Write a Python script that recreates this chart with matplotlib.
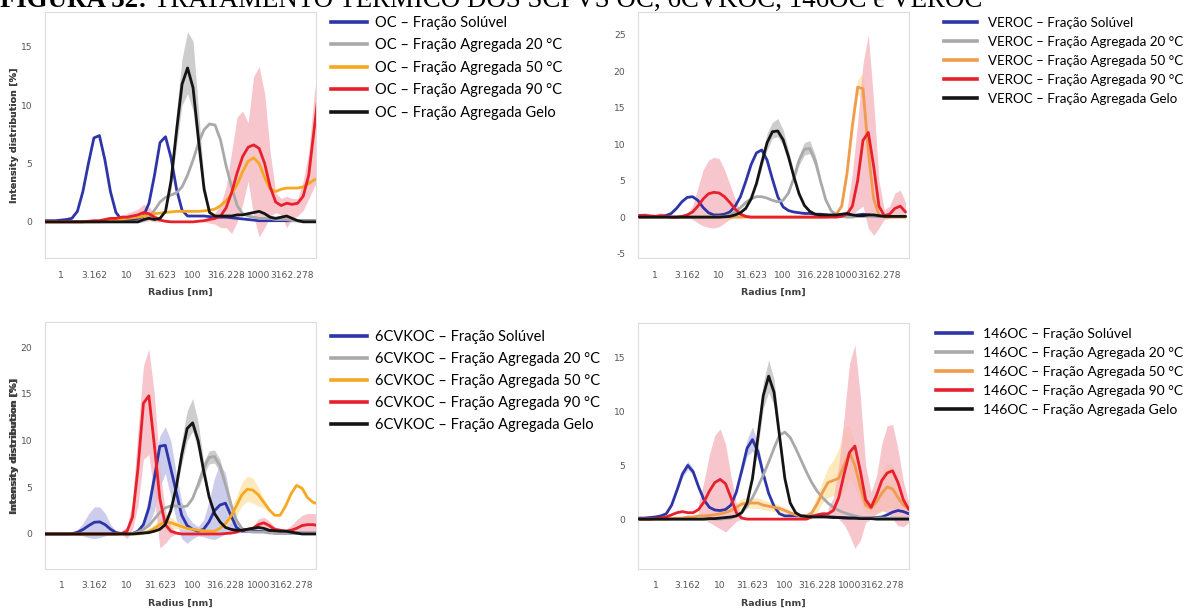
import matplotlib
matplotlib.use('Agg')
import matplotlib.pyplot as plt
from matplotlib.lines import Line2D
from matplotlib.ticker import NullLocator

# ---------------- data ----------------
radius = [0.562, 0.681, 0.825, 1.0, 1.212, 1.468, 1.778, 2.154, 2.610, 3.162,
          3.831, 4.642, 5.623, 6.813, 8.254, 10.0, 12.12, 14.68, 17.78, 21.54,
          26.10, 31.62, 38.31, 46.42, 56.23, 68.13, 82.54, 100.0, 121.2, 146.8,
          177.8, 215.4, 261.0, 316.2, 383.1, 464.2, 562.3, 681.3, 825.4, 1000.0,
          1212, 1468, 1778, 2154, 2610, 3162, 3831, 4642, 5623, 6813, 8254]

tick_values = [1, 3.162, 10, 31.623, 100, 316.228, 1000, 3162.278]
tick_labels = ['1', '3.162', '10', '31.623', '100', '316.228', '1000', '3162.278']
fractions = ['Fração Solúvel', 'Fração Agregada 20 °C', 'Fração Agregada 50 °C',
             'Fração Agregada 90 °C', 'Fração Agregada Gelo']
samples = ['OC', 'VEROC', '6CVKOC', '146OC']

# OC
oc_sol = [0.1, 0.1, 0.1, 0.15, 0.2, 0.3, 0.9, 2.6, 5.0, 7.2, 7.4, 5.3, 2.6, 0.8, 0.2, 0.15, 0.2, 0.3,
          0.5, 1.6, 4.0, 6.8, 7.3, 5.5, 2.8, 1.0, 0.5, 0.5, 0.5, 0.5, 0.45, 0.4, 0.4, 0.4, 0.35, 0.3,
          0.25, 0.2, 0.15, 0.1, 0.1, 0.1, 0.1, 0.1, 0.1, 0.1, 0.1, 0.1, 0.1, 0.1, 0.05]
oc_20 = [0, 0, 0, 0, 0, 0, 0, 0, 0, 0, 0, 0, 0, 0, 0, 0, 0, 0,
         0.1, 0.4, 1.0, 1.7, 2.1, 2.3, 2.5, 3.0, 4.0, 5.3, 6.8, 7.9, 8.4, 8.3, 7.0, 4.8, 3.0, 1.4,
         0.7, 0.5, 0.4, 0.3, 0.3, 0.3, 0.2, 0.2, 0.2, 0.1, 0.1, 0.1, 0.1, 0.1, 0.1]
oc_50 = [0, 0, 0, 0, 0, 0, 0, 0, 0, 0, 0,
         0.05, 0.1, 0.15, 0.2, 0.3, 0.35, 0.4, 0.5, 0.6, 0.7, 0.75, 0.8, 0.85, 0.9, 0.9, 0.9, 0.9,
         0.9, 0.95, 1.0, 1.1, 1.4, 1.8, 2.4, 3.2, 4.3, 5.2, 5.5, 5.0, 3.8, 2.8, 2.6, 2.8, 2.9, 2.9,
         2.9, 3.0, 3.3, 3.6, 3.8]
oc_90 = [0, 0, 0, 0, 0, 0, 0, 0, 0.05, 0.1, 0.1, 0.2, 0.3, 0.3, 0.4, 0.4, 0.5, 0.6, 0.8, 0.7,
         0.4, 0.15, 0.05, 0, 0, 0, 0, 0, 0.05, 0.1, 0.2, 0.3, 0.5, 1.2, 2.5, 4.2, 5.6, 6.4, 6.6,
         6.3, 5.0, 3.0, 1.7, 1.4, 1.6, 1.5, 1.6, 2.2, 4.0, 8.0, 12.0]
oc_gelo = [0, 0, 0, 0, 0, 0, 0, 0, 0, 0, 0, 0, 0, 0, 0, 0, 0, 0,
           0.2, 0.3, 0.2, 0.3, 0.9, 3.5, 7.8, 11.8, 13.2, 11.5, 7.0, 2.8, 0.8, 0.5, 0.5, 0.5, 0.5,
           0.6, 0.6, 0.7, 0.8, 0.9, 0.7, 0.4, 0.3, 0.4, 0.5, 0.3, 0.1, 0, 0, 0, 0]
oc_gelo_band = (22, [1.2, 4.5, 9.5, 14.0, 16.3, 15.5, 9.5, 3.5, 1.0],
                [0.7, 2.8, 6.5, 10.0, 11.0, 9.5, 5.5, 2.2, 0.6])
oc_90_band_a = (14, [0.6, 0.7, 0.9, 1.1, 1.5, 1.3, 0.7, 0.3],
                [0.2, 0.1, 0.1, 0.1, 0.0, 0.1, 0.0, 0.0])
oc_90_band_b = (29, [0.2, 0.5, 0.8, 1.5, 3.0, 6.0, 9.0, 9.5, 8.5, 12.5, 13.3, 11.0, 6.0, 2.5, 2.0,
                     2.2, 2.0, 2.0, 3.5, 6.0, 11.0, 14.0],
                [0.0, -0.1, -0.2, -0.5, -0.5, -1.0, 0.0, 1.5, 3.5, 0.5, -1.3, -0.5, 0.5, 0.8, 0.6,
                 -0.5, 0.3, 0.5, 1.0, 2.0, 3.0, 4.0])

# VEROC
ve_sol = [0.2, 0.2, 0.1, 0.1, 0.1, 0.2, 0.5, 1.2, 2.1, 2.7, 2.8, 2.3, 1.3, 0.6, 0.3, 0.3, 0.4, 0.7,
          1.5, 2.8, 4.9, 7.2, 8.8, 9.2, 7.8, 5.2, 2.8, 1.4, 0.9, 0.7, 0.6, 0.5, 0.5, 0.4, 0.4, 0.3,
          0.2, 0.2, 0.2, 0.1, 0.2, 0.3, 0.4, 0.3, 0.2, 0.1, 0.1, 0.1, 0.1, 0.1, 0.1]
ve_20 = [0, 0, 0, 0, 0, 0, 0, 0, 0, 0, 0, 0, 0, 0, 0,
         0.05, 0.1, 0.3, 0.7, 1.3, 2.0, 2.5, 2.8, 2.8, 2.6, 2.3, 2.1, 2.3, 3.3, 5.3, 7.8, 9.3, 9.4,
         7.8, 5.0, 2.4, 0.9, 0.3, 0.1, 0.0, 0.0, 0.1, 0.1, 0.1, 0.1, 0.1, 0.1, 0.1, 0.1, 0.1, 0.1]
ve_50 = [0, 0, 0, 0, 0, 0, 0, 0, 0, 0, 0, 0, 0, 0, 0, 0, 0, 0, 0, 0, 0, 0, 0, 0, 0, 0, 0, 0, 0, 0,
         0, 0, 0, 0, 0, 0,
         0.1, 0.4, 1.5, 6.0, 12.5, 17.8, 17.6, 9.0, 2.5, 0.3, 0, 0, 0, 0, 0]
ve_90 = [0.2, 0.2, 0.15, 0.1, 0.2, 0.1, 0.0, 0.0, 0.1, 0.3, 0.7, 1.5, 2.5, 3.2, 3.4, 3.3, 2.8, 2.0,
         1.1, 0.4, 0.1, 0, 0, 0, 0, 0, 0, 0, 0, 0, 0, 0, 0, 0, 0, 0, 0, 0,
         0.1, 0.4, 1.5, 5.0, 10.5, 11.6, 7.0, 1.5, 0.2, 0.4, 1.2, 1.5, 0.7]
ve_gelo = [0, 0, 0, 0, 0, 0, 0, 0, 0, 0, 0, 0, 0, 0, 0, 0,
           0.05, 0.1, 0.3, 0.6, 1.2, 2.5, 4.6, 7.5, 10.2, 11.7, 11.8, 10.6, 8.3, 5.6, 3.2, 1.6,
           0.8, 0.4, 0.3, 0.3, 0.3, 0.3, 0.4, 0.5, 0.3, 0.2, 0.2, 0.3, 0.3, 0.2, 0.1, 0.1, 0.1,
           0.1, 0.1]
ve_gelo_band = (22, [5.0, 8.2, 11.5, 13.0, 13.5, 12.0, 9.2, 6.2],
                [4.2, 6.8, 9.2, 10.8, 11.0, 9.8, 7.5, 5.0])
ve_20_band = (29, [5.8, 8.5, 10.2, 10.5, 8.6, 5.6], [4.8, 7.1, 8.5, 8.7, 7.0, 4.4])
ve_50_band = (38, [2.2, 6.8, 13.5, 18.8, 19.8, 11.0, 3.5, 0.6],
              [1.0, 5.2, 11.5, 16.8, 16.0, 7.5, 1.8, 0.1])
ve_90_band_a = (0, [0.5, 0.6, 0.5, 0.4, 0.6, 0.5, 0.2, 0.1, 0.3, 0.5, 1.5, 4.0, 6.5, 7.8, 8.2, 8.0,
                    6.5, 4.5, 2.5, 0.8, 0.2],
                [0.0, -0.1, -0.1, -0.1, -0.1, -0.1, -0.1, -0.1, 0.0, 0.0, -0.3, -0.8, -1.2, -1.4,
                 -1.5, -1.3, -0.8, -0.3, 0.0, 0.0, 0.0])
ve_90_band_b = (38, [0.3, 1.0, 6.0, 13.0, 21.0, 25.0, 16.0, 5.0, 1.0, 1.5, 3.3, 3.7, 2.0],
                [0.0, 0.0, 0.3, 1.0, 1.5, -1.5, -2.5, -1.5, -0.3, -0.2, 0.2, 0.3, 0.2])

# 6CVKOC
cv_sol = [0, 0, 0, 0, 0, 0.05, 0.2, 0.5, 0.9, 1.25, 1.3, 1.0, 0.5, 0.15, 0.05, 0.0, 0.05, 0.3, 1.0,
          2.8, 6.0, 9.4, 9.5, 7.0, 4.5, 2.0, 0.9, 0.5, 0.3, 0.5, 1.3, 2.5, 3.1, 3.3, 2.0, 0.7, 0.3,
          0.3, 0.3, 0.3, 0.25, 0.2, 0.1, 0.1, 0.1, 0.1, 0.1, 0.1, 0.1, 0.1, 0.1]
cv_20 = [0, 0, 0, 0, 0, 0, 0, 0, 0, 0, 0, 0, 0, 0, 0, 0,
         0.05, 0.2, 0.5, 0.9, 1.6, 2.3, 2.8, 3.0, 3.0, 2.9, 3.0, 3.8, 5.3, 7.0, 8.2, 8.3, 7.3, 5.3,
         3.2, 1.5, 0.6, 0.3, 0.2, 0.2, 0.2, 0.1, 0.1, 0.1, 0.1, 0.1, 0.1, 0.1, 0.1, 0.1, 0.1]
cv_50 = [0, 0, 0, 0, 0, 0, 0, 0, 0, 0, 0, 0, 0, 0, 0, 0, 0, 0,
         0.1, 0.3, 0.6, 1.0, 1.3, 1.2, 1.0, 0.8, 0.6, 0.5, 0.4, 0.35, 0.3, 0.3, 0.6, 1.1, 1.9,
         3.0, 4.2, 4.8, 4.7, 4.2, 3.4, 2.6, 2.0, 2.0, 3.0, 4.3, 5.2, 4.9, 3.9, 3.4, 3.2]
cv_90 = [0, 0, 0, 0, 0, 0, 0, 0, 0, 0, 0, 0, 0, 0,
         0.05, 0.3, 1.8, 7.0, 14.0, 14.8, 9.5, 3.8, 1.0, 0.3, 0.1, 0, 0, 0, 0, 0, 0, 0, 0, 0.05,
         0.1, 0.2, 0.4, 0.5, 0.6, 1.0, 1.2, 0.9, 0.5, 0.4, 0.3, 0.4, 0.6, 0.9, 1.0, 1.0, 0.9]
cv_gelo = [0, 0, 0, 0, 0, 0, 0, 0, 0, 0, 0, 0, 0, 0, 0, 0, 0,
           0.05, 0.1, 0.15, 0.3, 0.5, 1.0, 2.5, 5.0, 8.5, 11.3, 11.9, 10.0, 6.8, 4.0, 2.2, 1.3,
           0.7, 0.5, 0.4, 0.4, 0.5, 0.6, 0.7, 0.6, 0.4, 0.35, 0.3, 0.3, 0.2, 0.1, 0, 0, 0, 0]
cv_sol_band_a = (5, [0.1, 0.5, 1.2, 2.2, 2.9, 2.9, 2.2, 1.0, 0.3, 0.1],
                 [0.0, -0.1, -0.2, -0.4, -0.5, -0.4, -0.2, 0.0, 0.0, 0.0])
cv_sol_band_b = (17, [0.5, 1.5, 4.0, 7.5, 10.5, 11.5, 10.0, 6.5, 3.5, 2.0, 1.2, 0.8, 1.5, 3.5,
                      6.0, 7.5, 6.5, 3.5, 1.2, 0.4],
                 [0.1, 0.3, 1.0, 2.5, 5.0, 6.5, 4.0, 1.5, -0.5, -1.0, -0.5, -0.2, -0.3, -0.5,
                  -0.6, -0.3, 0.0, 0.0, 0.1, 0.2])
cv_gelo_band = (23, [2.8, 5.8, 10.0, 13.2, 14.5, 12.0, 7.8, 4.5],
                [2.2, 4.5, 7.5, 10.0, 11.0, 9.0, 6.0, 3.5])
cv_20_band = (28, [5.8, 7.7, 8.9, 9.0, 8.0, 5.8, 3.6], [4.8, 6.3, 7.5, 7.6, 6.6, 4.8, 2.8])
cv_50_band_a = (19, [0.5, 1.0, 1.6, 2.0, 1.8, 1.4, 1.1, 0.8], [0.1, 0.2, 0.4, 0.6, 0.6, 0.6, 0.5, 0.4])
cv_50_band_b = (33, [1.5, 2.6, 4.0, 5.5, 6.2, 6.0, 5.0, 3.8, 2.8],
                [0.7, 1.2, 2.0, 3.0, 3.5, 3.3, 3.0, 2.8, 2.3])
cv_90_band_a = (14, [0.3, 0.8, 3.5, 11.0, 18.0, 19.8, 15.0, 7.0, 2.5, 0.8, 0.2],
                [0.0, -0.5, 0.5, 3.0, 8.0, 8.5, 4.0, -1.5, -1.0, -0.3, 0.0])
cv_90_band_b = (38, [0.8, 1.6, 1.8, 1.4, 0.8, 0.6, 0.5, 0.9, 1.5, 2.0, 2.2, 2.2, 2.1],
                [0.4, 0.6, 0.7, 0.5, 0.3, 0.2, 0.1, 0.1, 0.2, 0.3, 0.3, 0.3, 0.3])

# 146OC
ao_sol = [0.1, 0.1, 0.15, 0.2, 0.3, 0.5, 1.3, 2.7, 4.2, 5.0, 4.4, 3.0, 1.8, 1.1, 0.85, 0.8, 0.9, 1.3,
          2.5, 4.5, 6.6, 7.4, 6.3, 4.2, 2.4, 1.2, 0.5, 0.3, 0.3, 0.3, 0.3, 0.3, 0.3, 0.3, 0.25, 0.2,
          0.2, 0.15, 0.15, 0.1, 0.1, 0.1, 0.1, 0.1, 0.15, 0.2, 0.4, 0.65, 0.8, 0.7, 0.5]
ao_20 = [0, 0, 0, 0, 0, 0, 0, 0, 0, 0, 0, 0, 0, 0, 0, 0,
         0.05, 0.1, 0.3, 0.6, 1.2, 2.0, 3.0, 4.1, 5.3, 6.6, 7.8, 8.1, 7.6, 6.6, 5.5, 4.4, 3.4, 2.6,
         2.0, 1.5, 1.1, 0.8, 0.6, 0.45, 0.3, 0.2, 0.1, 0.1, 0.1, 0.1, 0.1, 0.1, 0.1, 0.1, 0.1]
ao_50 = [0, 0, 0, 0, 0, 0, 0.05, 0.1, 0.1, 0.2, 0.2, 0.3, 0.3, 0.35, 0.4, 0.5, 0.6, 0.8, 1.1, 1.4,
         1.5, 1.5, 1.5, 1.3, 1.2, 1.1, 1.0, 0.8, 0.6, 0.4, 0.3, 0.3, 0.6, 1.4, 2.5, 3.4, 3.6, 3.8,
         5.0, 6.2, 5.0, 3.0, 1.3, 1.0, 1.6, 2.4, 3.0, 2.8, 2.0, 1.3, 1.0]
ao_90 = [0, 0, 0, 0.05, 0.1, 0.2, 0.4, 0.6, 0.7, 0.6, 0.6, 0.9, 1.6, 2.6, 3.4, 3.7, 3.3, 2.0, 0.6,
         0.1, 0, 0, 0, 0, 0, 0, 0, 0, 0, 0, 0, 0,
         0.2, 0.4, 0.5, 0.5, 0.8, 2.0, 4.2, 6.2, 6.8, 4.5, 1.8, 1.1, 2.2, 3.6, 4.3, 4.5, 3.4, 1.8, 0.9]
ao_gelo = [0, 0, 0, 0, 0, 0, 0, 0, 0, 0, 0, 0, 0,
           0.05, 0.05, 0.1, 0.15, 0.2, 0.3, 0.6, 1.5, 3.8, 7.6, 11.5, 13.3, 11.8, 7.8, 3.8, 1.5,
           0.6, 0.3, 0.25, 0.2, 0.2, 0.2, 0.2, 0.15, 0.15, 0.1, 0.1, 0.1, 0.05, 0.05, 0.05,
           0, 0, 0, 0, 0, 0, 0]
ao_sol_band_a = (7, [2.9, 4.5, 5.4, 4.7, 3.2], [2.5, 3.9, 4.6, 4.1, 2.8])
ao_sol_band_b = (19, [4.9, 7.4, 8.6, 7.0, 4.6, 2.6], [4.1, 5.9, 6.3, 5.6, 3.8, 2.2])
ao_gelo_band = (21, [4.2, 8.6, 12.7, 14.8, 13.0, 8.6, 4.2], [3.4, 6.6, 10.3, 11.8, 10.6, 7.0, 3.4])
ao_50_band_a = (17, [1.1, 1.5, 1.9, 2.0, 2.0, 2.0, 1.8, 1.6, 1.5, 1.3, 1.1, 0.8],
                [0.5, 0.7, 0.9, 1.0, 1.0, 1.0, 0.9, 0.8, 0.7, 0.6, 0.5, 0.4])
ao_50_band_b = (32, [1.0, 2.2, 3.5, 4.8, 5.5, 6.5, 8.5, 8.8, 7.0, 4.5, 2.0, 1.5, 2.8, 4.5, 5.3,
                     5.0, 3.5, 2.0, 1.4],
                [0.3, 0.7, 1.5, 2.0, 2.2, 2.0, 2.5, 3.8, 3.0, 1.5, 0.6, 0.5, 0.5, 0.7, 1.0, 1.0,
                 0.8, 0.6, 0.5])
ao_90_band_a = (11, [1.5, 3.5, 6.0, 7.8, 8.4, 7.0, 4.0, 1.5, 0.3],
                [0.3, 0.0, -0.3, -0.6, -0.9, -1.2, -0.7, -0.2, 0.0])
ao_90_band_b = (35, [1.0, 2.0, 5.0, 9.5, 14.5, 16.2, 11.5, 5.0, 2.5, 4.0, 7.0, 8.7, 8.8, 6.5,
                     3.5, 1.5],
                [0.2, 0.3, 0.0, -0.5, -1.5, -2.7, -2.0, -0.3, 0.0, 0.5, 0.8, 0.6, 0.0, -0.6,
                 -0.7, -0.3])

# ---------------- style ----------------
W, H = 1196, 608
BLUE, GRAY, RED, BLACK = '#2d35a8', '#a9a9a9', '#e8202c', '#141414'
ORANGE_A, ORANGE_B = '#f5a820', '#f09c4c'
BAND = {'blue': '#bcbce8', 'gray': '#bdbdbd', 'red': '#f5b3bd', 'orange': '#fde2a6'}

fig = plt.figure(figsize=(W / 100, H / 100), dpi=100)


def rect(l, t, r, b):
    return [l / W, 1 - b / H, (r - l) / W, (b - t) / H]


panels = [
    dict(name=samples[0], box=(45, 12, 316, 258), xl=(-0.24, 3.86), yl=(-3.1, 18.0),
         yt=[0, 5, 10, 15], orange=ORANGE_A,
         lines=[oc_sol, oc_20, oc_50, oc_90, oc_gelo],
         bands=[(oc_gelo_band, 'gray'), (oc_90_band_a, 'red'), (oc_90_band_b, 'red')],
         leg=(331, 16), lfs=10.5, lsp=0.58, hl=2.5, htp=0.55),
    dict(name=samples[1], box=(638, 12, 909, 258), xl=(-0.27, 3.97), yl=(-5.6, 28.1),
         yt=[-5, 0, 5, 10, 15, 20, 25], orange=ORANGE_B,
         lines=[ve_sol, ve_20, ve_50, ve_90, ve_gelo],
         bands=[(ve_gelo_band, 'gray'), (ve_20_band, 'gray'), (ve_50_band, 'orange'),
                (ve_90_band_a, 'red'), (ve_90_band_b, 'red')],
         leg=(944, 17), lfs=9.6, lsp=0.52, hl=2.5, htp=0.8),
    dict(name=samples[2], box=(45, 322, 316, 569), xl=(-0.25, 3.88), yl=(-3.75, 22.7),
         yt=[0, 5, 10, 15, 20], orange=ORANGE_A,
         lines=[cv_sol, cv_20, cv_50, cv_90, cv_gelo],
         bands=[(cv_sol_band_a, 'blue'), (cv_sol_band_b, 'blue'), (cv_gelo_band, 'gray'),
                (cv_20_band, 'gray'), (cv_50_band_a, 'orange'), (cv_50_band_b, 'orange'),
                (cv_90_band_a, 'red'), (cv_90_band_b, 'red')],
         leg=(331, 330), lfs=10.5, lsp=0.55, hl=2.5, htp=0.55),
    dict(name=samples[3], box=(638, 323, 909, 569), xl=(-0.27, 3.92), yl=(-4.64, 18.25),
         yt=[0, 5, 10, 15], orange=ORANGE_B,
         lines=[ao_sol, ao_20, ao_50, ao_90, ao_gelo],
         bands=[(ao_sol_band_a, 'blue'), (ao_sol_band_b, 'blue'), (ao_gelo_band, 'gray'),
                (ao_50_band_a, 'orange'), (ao_50_band_b, 'orange'),
                (ao_90_band_a, 'red'), (ao_90_band_b, 'red')],
         leg=(936, 328), lfs=10.0, lsp=0.5, hl=2.6, htp=0.8),
]

for p in panels:
    l, t, r, b = p['box']
    ax = fig.add_axes(rect(l, t, r, b))
    ax.set_xscale('log')
    ax.set_xlim(10 ** p['xl'][0], 10 ** p['xl'][1])
    ax.set_ylim(*p['yl'])
    for (start, up, lo), key in p['bands']:
        xs = radius[start:start + len(up)]
        ax.fill_between(xs, lo, up, color=BAND[key], alpha=0.75, lw=0, zorder=1)
    colors = [BLUE, GRAY, p['orange'], RED, BLACK]
    order = [1, 2, 0, 3, 4]
    for k in order:
        ax.plot(radius, p['lines'][k], color=colors[k], lw=2.0, zorder=3 + k,
                solid_joinstyle='round', solid_capstyle='round')
    ax.set_xticks(tick_values)
    ax.set_xticklabels(tick_labels)
    ax.xaxis.set_minor_locator(NullLocator())
    ax.set_yticks(p['yt'])
    ax.set_yticklabels([str(v) for v in p['yt']])
    ax.tick_params(length=0, labelsize=6.6, colors='#555555')
    ax.tick_params(axis='x', pad=9)
    ax.tick_params(axis='y', pad=9)
    for s in ax.spines.values():
        s.set_color('#dcdcdc')
        s.set_linewidth(0.8)
    ax.set_xlabel('Radius [nm]', fontsize=6.8, fontweight='bold', color='#404040')
    ax.set_ylabel('Intensity distribution [%]', fontsize=6.8, fontweight='bold', color='#404040')
    ax.xaxis.set_label_coords(0.5, -34 / (b - t))
    ax.xaxis.label.set_va('center')
    ax.yaxis.set_label_coords(-(l - 15) / (r - l), 0.5)
    ax.yaxis.label.set_va('center')

    handles = [Line2D([], [], color=c, lw=2.6) for c in colors]
    labels = [f"{p['name']} – {f}" for f in fractions]
    lx, ly = p['leg']
    ax.legend(handles, labels, loc='upper left', bbox_to_anchor=(lx / W, 1 - ly / H),
              bbox_transform=fig.transFigure, frameon=False, borderpad=0, borderaxespad=0,
              labelspacing=p['lsp'], handlelength=p['hl'], handletextpad=p['htp'],
              prop={'family': 'Lato', 'size': p['lfs']})

# ---------------- cut title ----------------
t1 = fig.text(0.0, 1 - 7 / H, 'FIGURA 32: ', fontsize=19.4, fontweight='bold',
              family='Liberation Serif', va='baseline', ha='left')
fig.canvas.draw()
bb = t1.get_window_extent()
fig.text(bb.x1 / W, 1 - 7 / H, 'TRATAMENTO TÉRMICO DOS SCPVS OC, 6CVKOC, 146OC e VEROC',
         fontsize=19.4, family='Liberation Serif', va='baseline', ha='left')

fig.savefig('out.png', dpi=100)
